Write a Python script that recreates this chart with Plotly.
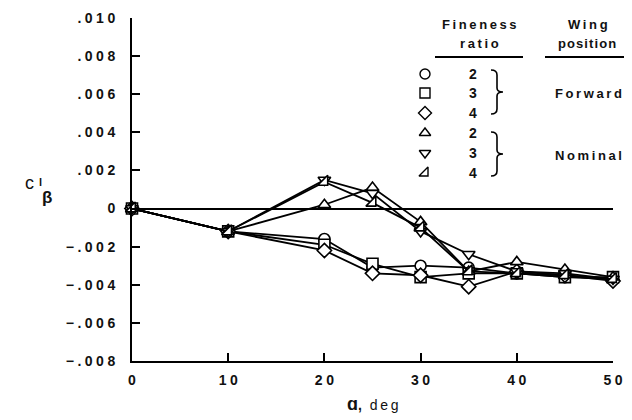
import plotly.graph_objects as go

alpha = [0, 10, 20, 25, 30, 35, 40, 45, 50]

fwd_fr2 = [0, -0.0012, -0.0016, -0.0031, -0.0030, -0.0031, -0.0034, -0.0036, -0.0037]
fwd_fr3 = [0, -0.0012, -0.0019, -0.0029, -0.0036, -0.0034, -0.0034, -0.0036, -0.0036]
fwd_fr4 = [0, -0.0012, -0.0022, -0.0034, -0.0035, -0.0041, -0.0033, -0.0035, -0.0038]
nom_fr2 = [0, -0.0012, 0.0002, 0.0011, -0.0007, -0.0033, -0.0028, -0.0032, -0.0036]
nom_fr3 = [0, -0.0012, 0.0015, 0.0008, -0.0012, -0.0024, -0.0033, -0.0034, -0.0037]
nom_fr4 = [0, -0.0012, 0.0014, 0.0003, -0.0010, -0.0033, -0.0034, -0.0035, -0.0037]

series = [
    (fwd_fr2, "circle", "2"),
    (fwd_fr3, "square", "3"),
    (fwd_fr4, "diamond", "4"),
    (nom_fr2, "triangle-up", "2"),
    (nom_fr3, "triangle-down", "3"),
    (nom_fr4, "triangle-se", "4"),
]

y_ticks = [0.010, 0.008, 0.006, 0.004, 0.002, 0, -0.002, -0.004, -0.006, -0.008]
y_ticklabels = [".010", ".008", ".006", ".004", ".002", "0", "\u2212.002", "\u2212.004", "\u2212.006", "\u2212.008"]
x_ticks = [0, 10, 20, 30, 40, 50]
x_ticklabels = ["0", "10", "20", "30", "40", "50"]

SP = "\u2005"
THIN = "\u2009"
HAIR = "\u200a"


def spaced(s, sp=SP):
    return sp.join(list(s))


# the page body has an 8px margin; work in page pixels and convert
OFF = 8
PAGE_W, PAGE_H = 632, 420
W, H = PAGE_W - OFF, PAGE_H - OFF
L, R, T, B = 132 - OFF, 19, 18 - OFF, 59
PW, PH = W - L - R, H - T - B


def px(x):
    return (x - OFF - L) / PW


def py(y):
    return (H - B - (y - OFF)) / PH


FONT = "Liberation Sans, Arial, sans-serif"
TXT = "#111111"

fig = go.Figure()
for vals, sym, fr in series:
    fig.add_trace(go.Scatter(
        x=alpha, y=vals, mode="lines+markers",
        line=dict(color="black", width=1.8),
        marker=dict(symbol=sym, size=11, color="white",
                    line=dict(color="black", width=1.6)),
        cliponaxis=False, showlegend=False,
    ))

# legend markers on an overlay axis in page-pixel coordinates
leg_y = [74, 93, 113, 133, 153, 173]
fig.add_trace(go.Scatter(
    x=[425] * 6, y=leg_y, mode="markers", xaxis="x2", yaxis="y2",
    marker=dict(symbol=[s[1] for s in series], size=10, color="white",
                line=dict(color="black", width=1.4)),
    cliponaxis=False, showlegend=False, hoverinfo="skip",
))

annotations = []


def add_text(txt, x, y, size=13, bold=True, sp=SP):
    t = spaced(txt, sp) if sp else txt
    if bold:
        t = "<b>" + t + "</b>"
    annotations.append(dict(x=px(x), y=py(y), xref="paper", yref="paper", text=t,
                            showarrow=False, font=dict(size=size, color=TXT, family=FONT),
                            xanchor="center", yanchor="middle"))


for yy, (_, _, fr) in zip(leg_y, series):
    add_text(fr, 473, yy, size=14)

for txt, x, y, sp in [("Fineness", 479, 24, THIN), ("ratio", 479, 43, THIN),
                      ("Wing", 588, 24, THIN), ("position", 587, 43, HAIR),
                      ("Forward", 588, 93, THIN), ("Nominal", 588, 155, THIN)]:
    add_text(txt, x, y, size=13, sp=sp)

# axis titles
annotations.append(dict(x=px(373), y=py(404), xref="paper", yref="paper",
                        text="<b><span style='font-size:18px'>\u0251</span>,</b>\u00a0\u00a0" + spaced("deg", THIN),
                        showarrow=False,
                        font=dict(size=14, color=TXT, family=FONT),
                        xanchor="center", yanchor="middle"))
add_text("c", 29, 183, size=18, bold=False, sp=None)
add_text("l", 40, 182, size=11, bold=True, sp=None)
add_text("\u03b2", 47, 197, size=17, bold=True, sp=None)

shapes = []
for x0, x1 in [(435, 523), (545, 632)]:
    shapes.append(dict(type="line", xref="paper", yref="paper", x0=px(x0), x1=px(x1),
                       y0=py(57), y1=py(57), line=dict(color="black", width=2)))


def brace(y0, y1, x0=491, xm=497, xt=503):
    ym = (y0 + y1) / 2
    pts = [
        ("M", [(x0, y0)]),
        ("Q", [(xm, y0), (xm, y0 + 5)]),
        ("L", [(xm, ym - 4)]),
        ("Q", [(xm, ym), (xt, ym)]),
        ("Q", [(xm, ym), (xm, ym + 4)]),
        ("L", [(xm, y1 - 5)]),
        ("Q", [(xm, y1), (x0, y1)]),
    ]
    s = ""
    for cmd, ps in pts:
        s += cmd + " " + " ".join(f"{px(a):.5f},{py(b):.5f}" for a, b in ps) + " "
    return s.strip()


for y0, y1 in [(70, 114), (132, 176)]:
    shapes.append(dict(type="path", xref="paper", yref="paper", path=brace(y0, y1),
                       line=dict(color="black", width=1.6)))

fig.update_layout(
    width=W, height=H,
    margin=dict(l=L, r=R, t=T, b=B, autoexpand=False),
    paper_bgcolor="white", plot_bgcolor="white",
    font=dict(family=FONT, size=13, color=TXT),
    xaxis=dict(range=[0, 50], tickvals=x_ticks,
               ticktext=["<b>" + spaced(t) + "</b>" for t in x_ticklabels],
               ticks="inside", ticklen=8, tickwidth=1.5,
               tickcolor="black", showline=True, linecolor="black", linewidth=2,
               showgrid=False, zeroline=False, tickfont=dict(size=14, family=FONT, color=TXT),
               ticklabelstandoff=5),
    yaxis=dict(range=[-0.008, 0.010], tickvals=y_ticks,
               ticktext=["<b>" + spaced(t) + "</b>" for t in y_ticklabels],
               ticks="inside", ticklen=8, tickwidth=1.5, tickcolor="black",
               showline=True, linecolor="black",
               linewidth=2, showgrid=False, zeroline=True, zerolinecolor="black",
               zerolinewidth=2, tickfont=dict(size=14, family=FONT, color=TXT),
               ticklabelstandoff=12),
    xaxis2=dict(range=[L + OFF, W - R + OFF], overlaying="x", visible=False, fixedrange=True),
    yaxis2=dict(range=[H - B + OFF, T + OFF], overlaying="y", visible=False, fixedrange=True),
    annotations=annotations,
    shapes=shapes,
    showlegend=False,
)

fig.write_html("out.html")
